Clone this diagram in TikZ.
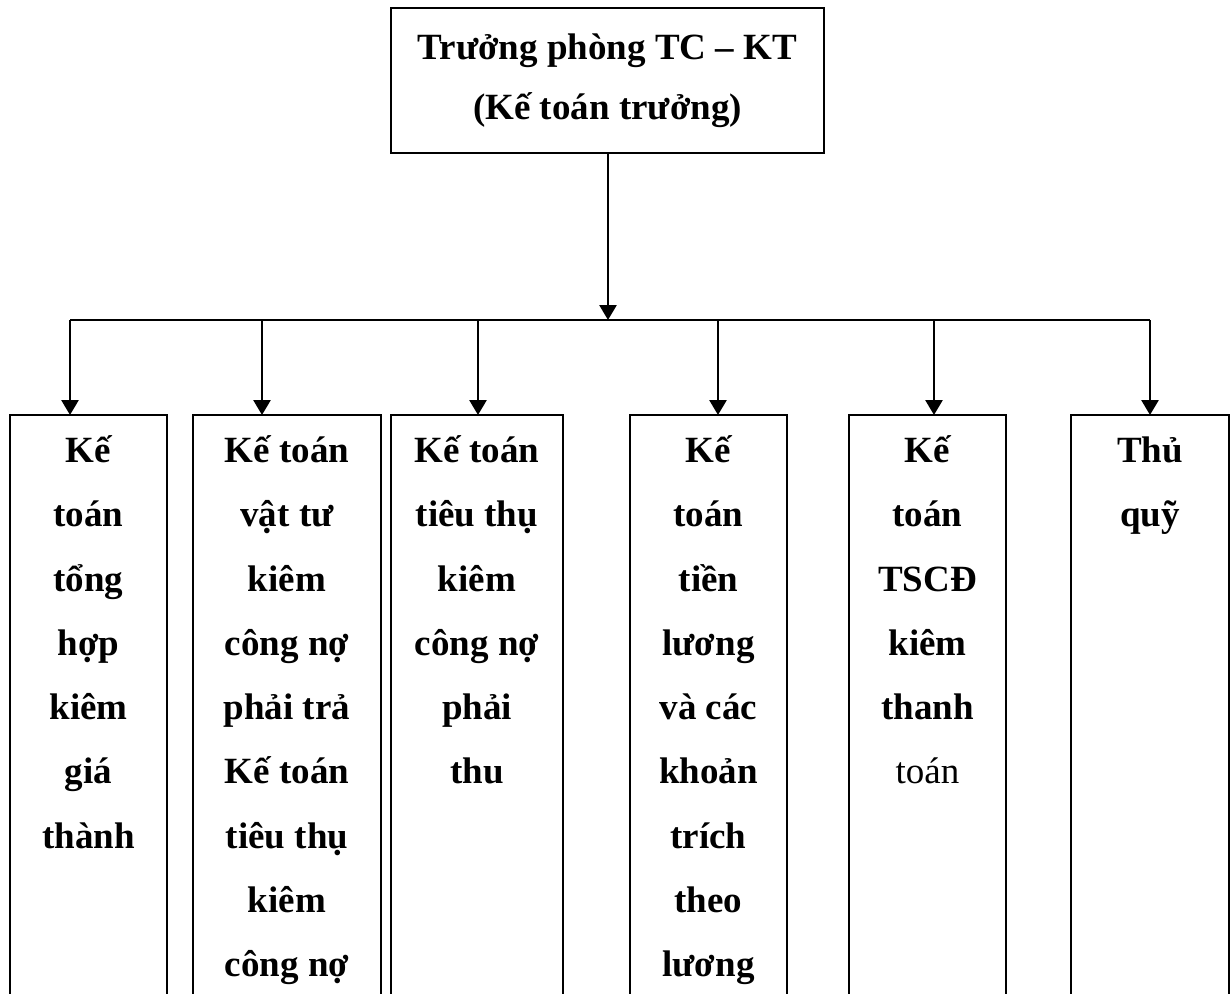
\documentclass[tikz,border=0pt]{standalone}
\usepackage{fontspec}
\setmainfont{Liberation Serif}
\usetikzlibrary{arrows.meta}
\begin{document}
\begin{tikzpicture}[x=0.5pt,y=-0.5pt,
  bus/.style={line width=1.35pt},
  unit/.style={draw, line width=1.1pt, minimum height=320pt, anchor=north west, inner sep=0pt, outer sep=0pt},
  lbl/.style={anchor=north, inner sep=0pt, align=center, font=\fontsize{18.5}{32.15}\selectfont\bfseries},
  link/.style={line width=1.35pt, -{Triangle[length=7.5pt,width=8.5pt]}}]
\useasboundingbox (0,0) rectangle (1232,993);
\clip (0,0) rectangle (1232,993);

% head of the department
\node[draw, line width=1.1pt, minimum width=216.5pt, minimum height=72.5pt, inner sep=0pt, outer sep=0pt,
      align=center, font=\fontsize{18.5}{30}\selectfont\bfseries]
  (head) at (607.5,80.5) {Trưởng phòng TC – KT\\(Kế toán trưởng)};

% distribution line
\coordinate (hub) at (608,320);
\coordinate (b1) at (70,320);
\coordinate (b2) at (262,320);
\coordinate (b3) at (478,320);
\coordinate (b4) at (718,320);
\coordinate (b5) at (934,320);
\coordinate (b6) at (1150,320);
\draw[link] (head.south -| hub) -- (hub);
\draw[bus] (b1) -- (b6);

% staff units
\node[unit, minimum width=78.5pt] (k1) at (10,415) {};
\node[unit, minimum width=94pt]   (k2) at (193,415) {};
\node[unit, minimum width=86pt]   (k3) at (391,415) {};
\node[unit, minimum width=78.5pt] (k4) at (630,415) {};
\node[unit, minimum width=78.5pt] (k5) at (849,415) {};
\node[unit, minimum width=79pt]   (k6) at (1071,415) {};

\foreach \i in {1,...,6} \draw[link] (b\i) -- (b\i |- k\i.north);

% unit titles
\node[lbl] (t1) at (k1.north |- 0,432) {\rule{0pt}{15pt}Kế\\toán\\tổng\\hợp\\kiêm\\giá\\thành};
\node[lbl] (t2) at (k2.north |- 0,432) {\rule{0pt}{15pt}Kế toán\\vật tư\\kiêm\\công nợ\\phải trả\\Kế toán\\tiêu thụ\\kiêm\\công nợ};
\node[lbl] (t3) at (k3.north |- 0,432) {\rule{0pt}{15pt}Kế toán\\tiêu thụ\\kiêm\\công nợ\\phải\\thu};
\node[lbl] (t4) at (k4.north |- 0,432) {\rule{0pt}{15pt}Kế\\toán\\tiền\\lương\\và các\\khoản\\trích\\theo\\lương};
\node[lbl] (t5) at (k5.north |- 0,432) {\rule{0pt}{15pt}Kế\\toán\\TSCĐ\\kiêm\\thanh\\{\mdseries toán}};
\node[lbl] (t6) at (k6.north |- 0,432) {\rule{0pt}{15pt}Thủ\\quỹ};
\end{tikzpicture}
\end{document}
